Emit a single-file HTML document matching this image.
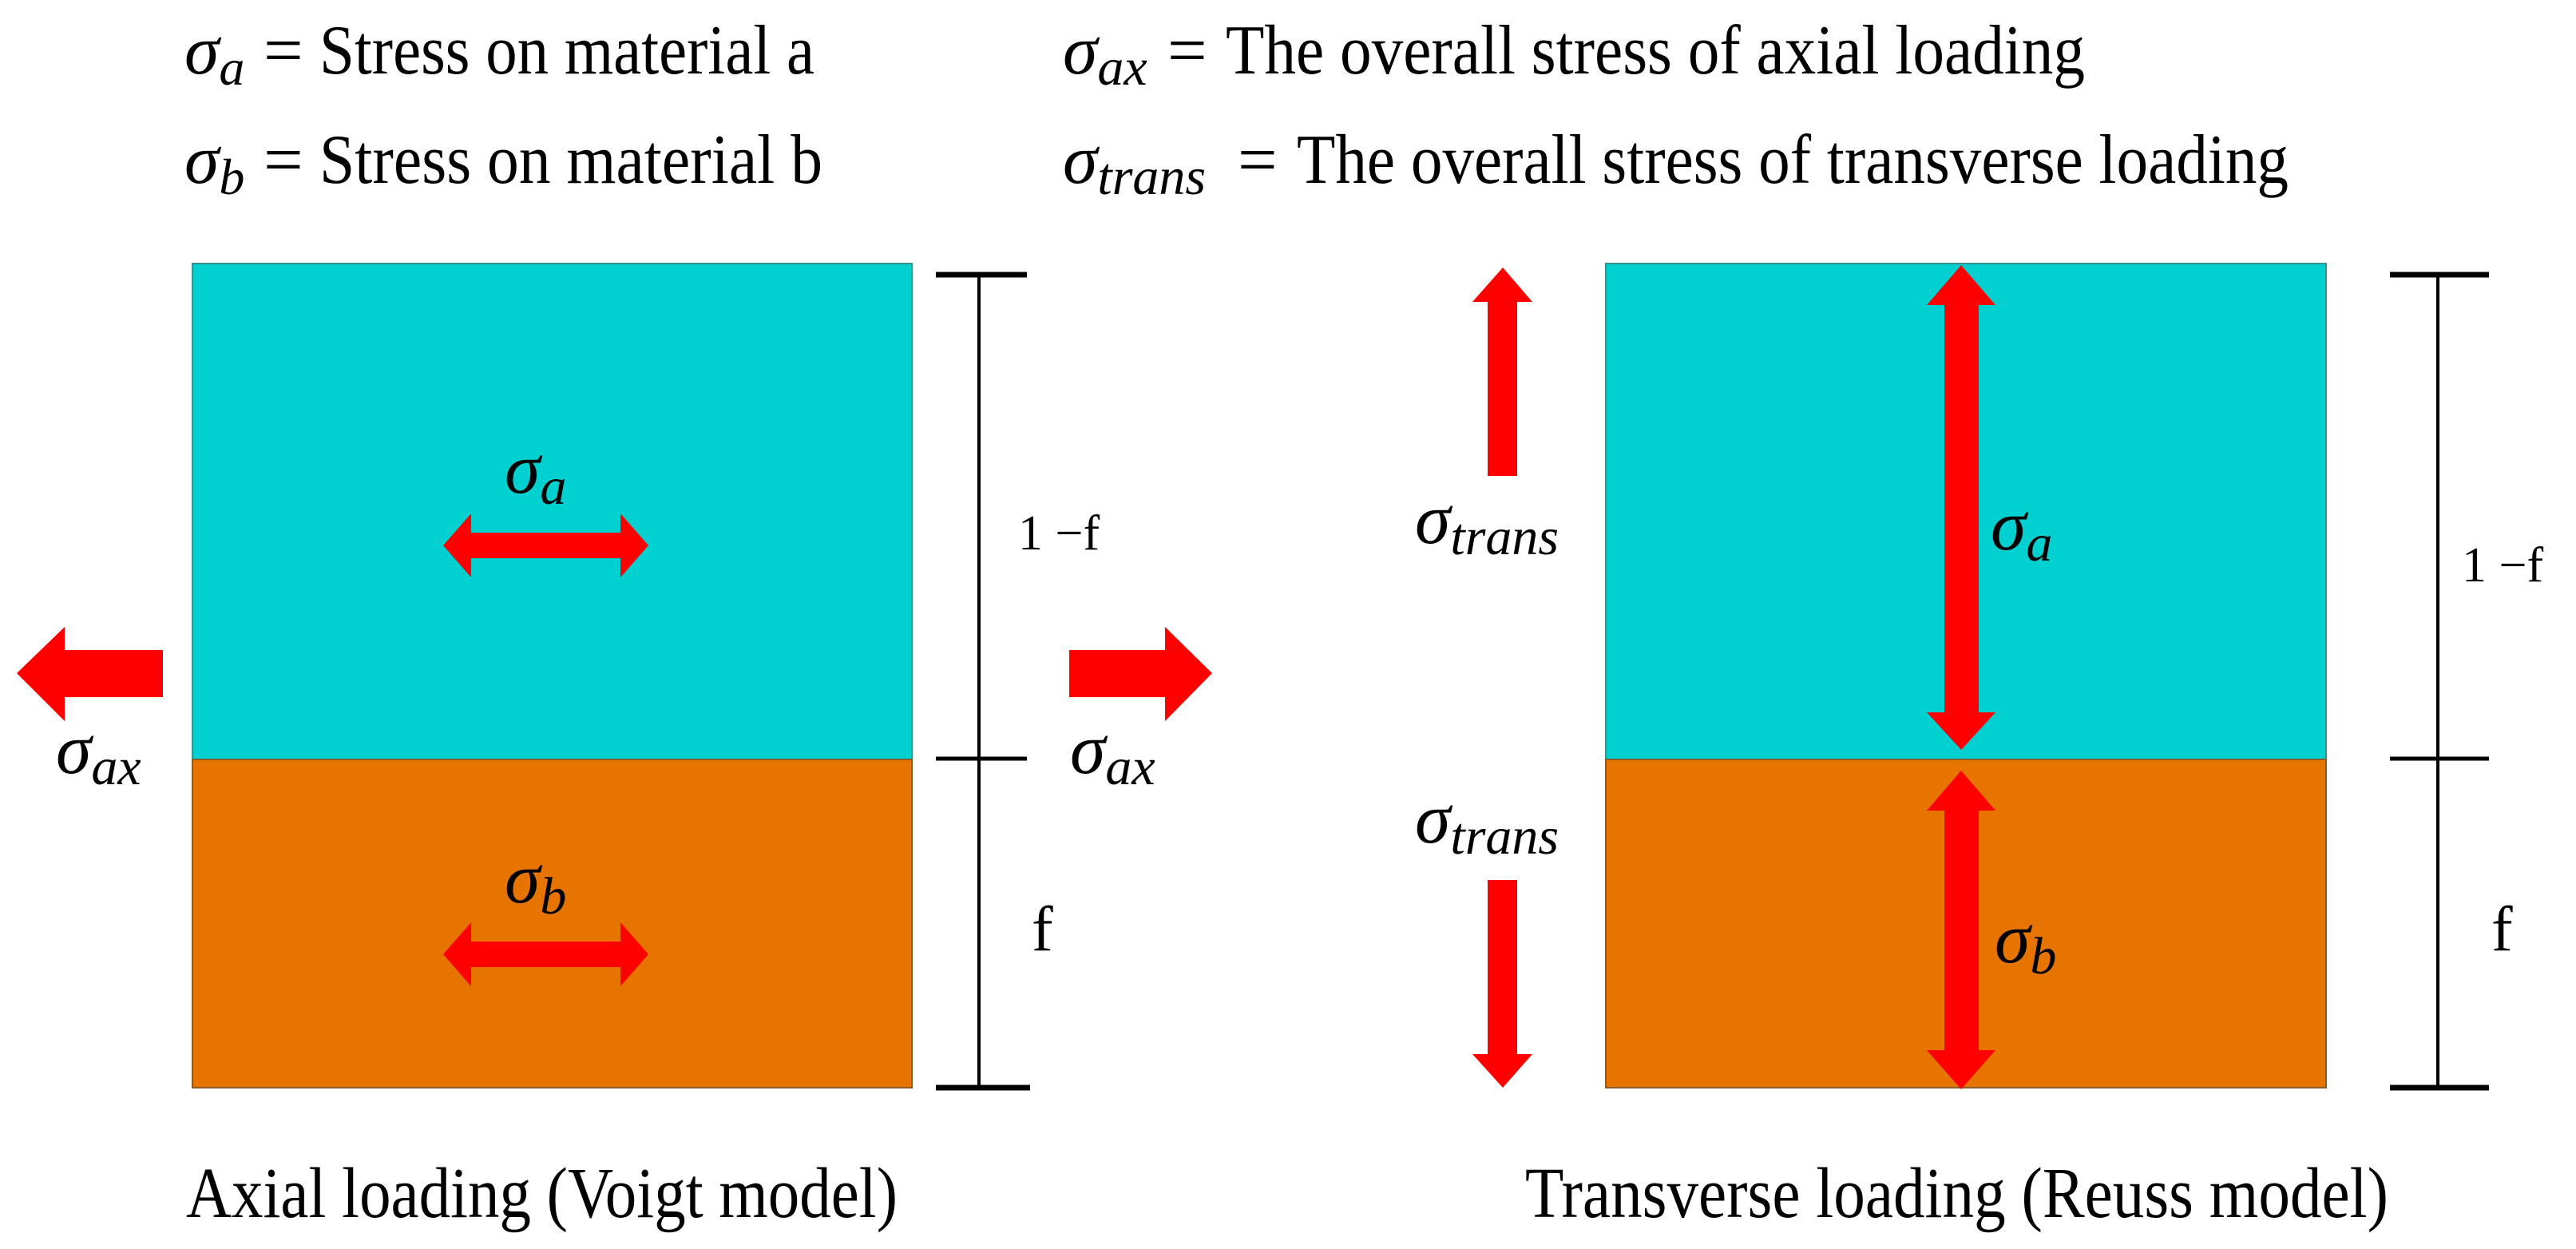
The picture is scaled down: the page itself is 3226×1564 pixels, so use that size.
<!DOCTYPE html>
<html><head><meta charset="utf-8"><style>
html,body{margin:0;padding:0;background:#fff;}
svg{display:block;}
text{font-family:"Liberation Serif","DejaVu Serif",serif;fill:#000;}
.m{font-style:italic;}
</style></head><body>
<svg width="3226" height="1564" viewBox="0 0 3226 1564" xmlns="http://www.w3.org/2000/svg">
<!-- header text -->
<text x="231" y="92" font-size="88" class="m">σ<tspan font-size="64" dy="14">a</tspan></text>
<text x="330" y="92" font-size="88">=</text>
<text x="400" y="92" font-size="88" textLength="620" lengthAdjust="spacingAndGlyphs">Stress on material a</text>
<text x="231" y="229" font-size="88" class="m">σ<tspan font-size="64" dy="14">b</tspan></text>
<text x="330" y="229" font-size="88">=</text>
<text x="400" y="229" font-size="88" textLength="630" lengthAdjust="spacingAndGlyphs">Stress on material b</text>

<text x="1331" y="92" font-size="88" class="m">σ<tspan font-size="66" dy="14">ax</tspan></text>
<text x="1462" y="92" font-size="88">=</text>
<text x="1535" y="92" font-size="88" textLength="1076" lengthAdjust="spacingAndGlyphs">The overall stress of axial loading</text>
<text x="1331" y="229" font-size="88" class="m">σ<tspan font-size="66" dy="14">trans</tspan></text>
<text x="1550" y="229" font-size="88">=</text>
<text x="1624" y="229" font-size="88" textLength="1242" lengthAdjust="spacingAndGlyphs">The overall stress of transverse loading</text>

<!-- left boxes -->
<rect x="241" y="330" width="901" height="621" fill="#00D0D0" stroke="#3a8f8f" stroke-width="2"/>
<rect x="241" y="951" width="901" height="411" fill="#E87400" stroke="#8a5a2a" stroke-width="2"/>
<!-- right boxes -->
<rect x="2011" y="330" width="902" height="621" fill="#00D0D0" stroke="#3a8f8f" stroke-width="2"/>
<rect x="2011" y="951" width="902" height="411" fill="#E87400" stroke="#8a5a2a" stroke-width="2"/>

<!-- dimension bars -->
<g stroke="#000" fill="none">
<line x1="1226" y1="344" x2="1226" y2="1362" stroke-width="4"/>
<line x1="1172" y1="344" x2="1286" y2="344" stroke-width="7"/>
<line x1="1172" y1="950" x2="1286" y2="950" stroke-width="5"/>
<line x1="1172" y1="1362" x2="1290" y2="1362" stroke-width="7"/>
<line x1="3053" y1="344" x2="3053" y2="1362" stroke-width="4"/>
<line x1="2993" y1="344" x2="3117" y2="344" stroke-width="7"/>
<line x1="2993" y1="950" x2="3117" y2="950" stroke-width="5"/>
<line x1="2993" y1="1362" x2="3117" y2="1362" stroke-width="7"/>
</g>
<text x="1275" y="688" font-size="62">1 −f</text>
<text x="1292" y="1190" font-size="80">f</text>
<text x="3083" y="728" font-size="62">1 −f</text>
<text x="3120" y="1190" font-size="80">f</text>

<!-- red arrows -->
<g fill="#FF0000">
<polygon points="21,843 81,785 81,814 204,814 204,873 81,873 81,903"/>
<polygon points="1518,843 1459,785 1459,814 1339,814 1339,873 1459,873 1459,903"/>
<polygon points="555,683 590,643 590,667 777,667 777,643 812,683 777,723 777,699 590,699 590,723"/>
<polygon points="555,1195 590,1155 590,1179 777,1179 777,1155 812,1195 777,1235 777,1211 590,1211 590,1235"/>
<polygon points="1882,335 1844,378 1863,378 1863,596 1900,596 1900,378 1919,378"/>
<polygon points="1882,1362 1844,1320 1863,1320 1863,1102 1900,1102 1900,1320 1919,1320"/>
<polygon points="2456,332 2413,382 2435,382 2435,892 2413,892 2456,939 2499,892 2478,892 2478,382 2499,382"/>
<polygon points="2456,965 2413,1015 2435,1015 2435,1315 2413,1315 2456,1364 2499,1315 2478,1315 2478,1015 2499,1015"/>
</g>

<!-- sigma labels -->
<text x="632" y="617" font-size="90" class="m">σ<tspan font-size="66" dy="14">a</tspan></text>
<text x="632" y="1130" font-size="90" class="m">σ<tspan font-size="66" dy="14">b</tspan></text>
<text x="70" y="968" font-size="90" class="m">σ<tspan font-size="66" dy="14">ax</tspan></text>
<text x="1340" y="968" font-size="90" class="m">σ<tspan font-size="66" dy="14">ax</tspan></text>
<text x="1772" y="680" font-size="90" class="m">σ<tspan font-size="66" dy="14">trans</tspan></text>
<text x="1772" y="1055" font-size="90" class="m">σ<tspan font-size="66" dy="14">trans</tspan></text>
<text x="2493" y="688" font-size="90" class="m">σ<tspan font-size="66" dy="14">a</tspan></text>
<text x="2498" y="1205" font-size="90" class="m">σ<tspan font-size="66" dy="14">b</tspan></text>

<!-- captions -->
<text x="233" y="1524" font-size="90" textLength="891" lengthAdjust="spacingAndGlyphs">Axial loading (Voigt model)</text>
<text x="1910" y="1524" font-size="90" textLength="1081" lengthAdjust="spacingAndGlyphs">Transverse loading (Reuss model)</text>
</svg>
</body></html>
